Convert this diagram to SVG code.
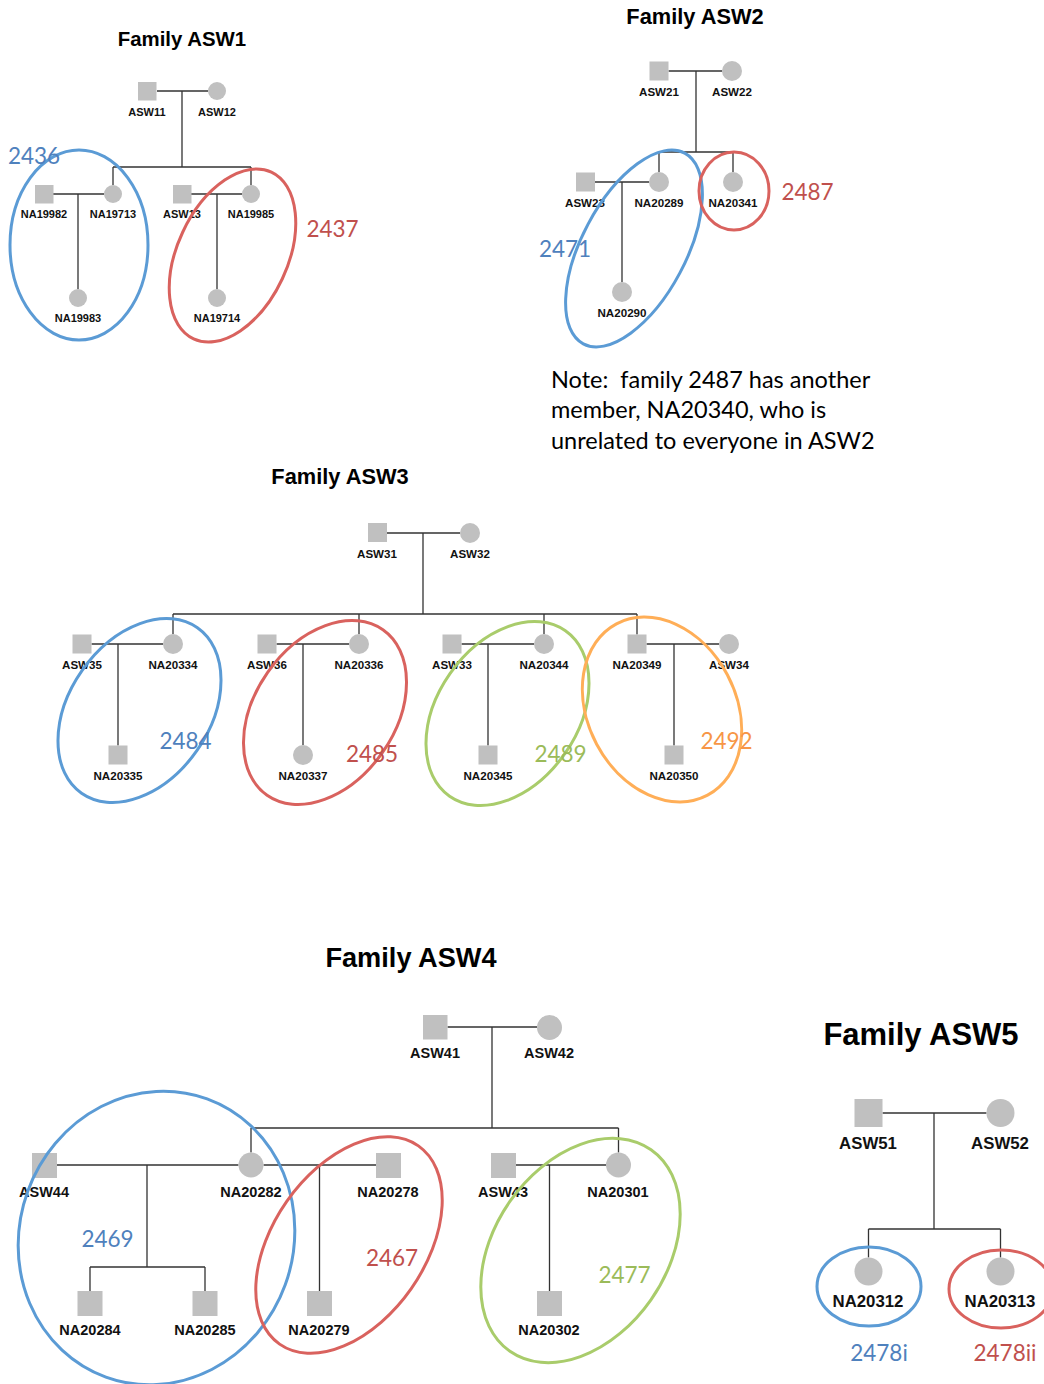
<svg xmlns="http://www.w3.org/2000/svg" width="1044" height="1384" viewBox="0 0 1044 1384">
<style>
.sq{fill:#C0C0C0}
.ci{fill:#C0C0C0}
.ln{stroke:#333;stroke-width:1.3;fill:none}
.t{font-family:"Liberation Sans",Arial,sans-serif;font-weight:bold;text-anchor:middle;fill:#111}
.l1{font-size:11px}
.l2{font-size:11.6px}
.l4{font-size:14.5px}
.l5{font-size:16.8px}
.ttl{font-family:"Liberation Sans",Arial,sans-serif;font-weight:bold;text-anchor:middle;fill:#000}
.num{font-family:Lato,"Open Sans",sans-serif;font-size:22.5px;text-anchor:middle}
.ell{fill:none;stroke-width:3}
.b{stroke:#5B9BD5}.r{stroke:#D9625E}.g{stroke:#A9CC6B}.o{stroke:#FFAE57}
.bt{fill:#4F81BD}.rt{fill:#C0504D}.gt{fill:#9BBB59}.ot{fill:#F79646}
.note{font-family:Lato,"Open Sans",sans-serif;font-size:23.5px;fill:#000}
</style>

<!-- Titles -->
<text class="ttl" x="182" y="46" font-size="20.4">Family ASW1</text>
<text class="ttl" x="695" y="24" font-size="21.8">Family ASW2</text>
<text class="ttl" x="340" y="484" font-size="21.8">Family ASW3</text>
<text class="ttl" x="411" y="967" font-size="27.2">Family ASW4</text>
<text class="ttl" x="921" y="1045" font-size="31">Family ASW5</text>

<!-- Connectors -->
<g id="connectors" class="ln">
<path d="M157 91H208M182 91V167M113 167H251M113 167V185M251 167V185M53 194H104M78 194V289M191 194H242M217 194V289"/>
<path d="M668.5 71H722M696 71V152M659 152H733M659 152V172M733 152V172M595 182H649M622 182V282"/>
<path d="M387 533H460M423 533V614M173 614H637M173 614V634M359 614V634M544 614V634M637 614V634.5M91.5 644H163M118 644V745.5M276.5 644H349M303 644V745M461.5 644H534M488 644V745.5M646.5 644H719M674 644V745.5"/>
<path d="M447.5 1027H537M492 1027V1128M251 1128H618.5M251 1128V1152.5M618.5 1128V1152.5M57 1165H238.5M147 1165V1267M90 1267H205M90 1267V1291M205 1267V1291M263.5 1165H376M319.5 1165V1291M516 1165H606M549.5 1165V1291"/>
<path d="M882.5 1113H986.5M934 1113V1229M868.5 1229H1000.5M868.5 1229V1257.5M1000.5 1229V1257.5"/>
</g>

<!-- Family ASW1 -->
<g id="ASW11"><rect class="sq" x="138" y="82" width="18.5" height="18.5"/><text class="t l1" x="147" y="116">ASW11</text></g>
<g id="ASW12"><circle class="ci" cx="217" cy="91" r="9"/><text class="t l1" x="217" y="116">ASW12</text></g>
<g id="NA19982"><rect class="sq" x="35" y="185" width="18.5" height="18.5"/><text class="t l1" x="44" y="218">NA19982</text></g>
<g id="NA19713"><circle class="ci" cx="113" cy="194" r="9"/><text class="t l1" x="113" y="218">NA19713</text></g>
<g id="ASW13"><rect class="sq" x="173" y="185" width="18.5" height="18.5"/><text class="t l1" x="182" y="218">ASW13</text></g>
<g id="NA19985"><circle class="ci" cx="251" cy="194" r="9"/><text class="t l1" x="251" y="218">NA19985</text></g>
<g id="NA19983"><circle class="ci" cx="78" cy="298" r="9"/><text class="t l1" x="78" y="322">NA19983</text></g>
<g id="NA19714"><circle class="ci" cx="217" cy="298" r="9"/><text class="t l1" x="217" y="322">NA19714</text></g>

<!-- Family ASW2 -->
<g id="ASW21"><rect class="sq" x="649.5" y="61.5" width="19" height="19"/><text class="t l2" x="659" y="96">ASW21</text></g>
<g id="ASW22"><circle class="ci" cx="732" cy="71" r="10"/><text class="t l2" x="732" y="96">ASW22</text></g>
<g id="ASW23"><rect class="sq" x="576" y="172.5" width="19" height="19"/><text class="t l2" x="585" y="207">ASW23</text></g>
<g id="NA20289"><circle class="ci" cx="659" cy="182" r="10"/><text class="t l2" x="659" y="207">NA20289</text></g>
<g id="NA20341"><circle class="ci" cx="733" cy="182" r="10"/><text class="t l2" x="733" y="207">NA20341</text></g>
<g id="NA20290"><circle class="ci" cx="622" cy="292" r="10"/><text class="t l2" x="622" y="317">NA20290</text></g>

<!-- Family ASW3 -->
<g id="ASW31"><rect class="sq" x="368" y="523" width="19" height="19"/><text class="t l2" x="377" y="558">ASW31</text></g>
<g id="ASW32"><circle class="ci" cx="470" cy="533" r="10"/><text class="t l2" x="470" y="558">ASW32</text></g>
<g id="ASW35"><rect class="sq" x="72.5" y="634.5" width="19" height="19"/><text class="t l2" x="82" y="669">ASW35</text></g>
<g id="NA20334"><circle class="ci" cx="173" cy="644" r="10"/><text class="t l2" x="173" y="669">NA20334</text></g>
<g id="ASW36"><rect class="sq" x="257.5" y="634.5" width="19" height="19"/><text class="t l2" x="267" y="669">ASW36</text></g>
<g id="NA20336"><circle class="ci" cx="359" cy="644" r="10"/><text class="t l2" x="359" y="669">NA20336</text></g>
<g id="ASW33"><rect class="sq" x="442.5" y="634.5" width="19" height="19"/><text class="t l2" x="452" y="669">ASW33</text></g>
<g id="NA20344"><circle class="ci" cx="544" cy="644" r="10"/><text class="t l2" x="544" y="669">NA20344</text></g>
<g id="NA20349"><rect class="sq" x="627.5" y="634.5" width="19" height="19"/><text class="t l2" x="637" y="669">NA20349</text></g>
<g id="ASW34"><circle class="ci" cx="729" cy="644" r="10"/><text class="t l2" x="729" y="669">ASW34</text></g>
<g id="NA20335"><rect class="sq" x="108.5" y="745.5" width="19" height="19"/><text class="t l2" x="118" y="780">NA20335</text></g>
<g id="NA20337"><circle class="ci" cx="303" cy="755" r="10"/><text class="t l2" x="303" y="780">NA20337</text></g>
<g id="NA20345"><rect class="sq" x="478.5" y="745.5" width="19" height="19"/><text class="t l2" x="488" y="780">NA20345</text></g>
<g id="NA20350"><rect class="sq" x="664.5" y="745.5" width="19" height="19"/><text class="t l2" x="674" y="780">NA20350</text></g>

<!-- Family ASW4 -->
<g id="ASW41"><rect class="sq" x="423" y="1015" width="24.5" height="24.5"/><text class="t l4" x="435" y="1058">ASW41</text></g>
<g id="ASW42"><circle class="ci" cx="549.5" cy="1027.5" r="12.5"/><text class="t l4" x="549" y="1058">ASW42</text></g>
<g id="ASW44"><rect class="sq" x="32" y="1153" width="25" height="25"/><text class="t l4" x="44" y="1197">ASW44</text></g>
<g id="NA20282"><circle class="ci" cx="251" cy="1165" r="12.5"/><text class="t l4" x="251" y="1197">NA20282</text></g>
<g id="NA20278"><rect class="sq" x="376" y="1153" width="25" height="25"/><text class="t l4" x="388" y="1197">NA20278</text></g>
<g id="ASW43"><rect class="sq" x="491" y="1153" width="25" height="25"/><text class="t l4" x="503" y="1197">ASW43</text></g>
<g id="NA20301"><circle class="ci" cx="618.5" cy="1165" r="12.5"/><text class="t l4" x="618" y="1197">NA20301</text></g>
<g id="NA20284"><rect class="sq" x="77.5" y="1291" width="25" height="25"/><text class="t l4" x="90" y="1335">NA20284</text></g>
<g id="NA20285"><rect class="sq" x="192.5" y="1291" width="25" height="25"/><text class="t l4" x="205" y="1335">NA20285</text></g>
<g id="NA20279"><rect class="sq" x="307" y="1291" width="25" height="25"/><text class="t l4" x="319" y="1335">NA20279</text></g>
<g id="NA20302"><rect class="sq" x="537" y="1291" width="25" height="25"/><text class="t l4" x="549" y="1335">NA20302</text></g>

<!-- Family ASW5 -->
<g id="ASW51"><rect class="sq" x="854.5" y="1099" width="28" height="28"/><text class="t l5" x="868" y="1149">ASW51</text></g>
<g id="ASW52"><circle class="ci" cx="1000.5" cy="1113" r="14"/><text class="t l5" x="1000" y="1149">ASW52</text></g>
<g id="NA20312"><circle class="ci" cx="868.5" cy="1271.5" r="14"/><text class="t l5" x="868" y="1307">NA20312</text></g>
<g id="NA20313"><circle class="ci" cx="1000.5" cy="1271.5" r="14"/><text class="t l5" x="1000" y="1307">NA20313</text></g>

<!-- Cluster ellipses -->
<g id="clusters">
<ellipse class="ell b" cx="79" cy="245" rx="69" ry="95"/>
<ellipse class="ell r" cx="0" cy="0" rx="55" ry="92" transform="translate(232.5 255.5) rotate(25)"/>
<ellipse class="ell b" cx="0" cy="0" rx="52" ry="108" transform="translate(634 248.5) rotate(28)"/>
<ellipse class="ell r" cx="734" cy="191" rx="35" ry="39"/>
<ellipse class="ell b" cx="0" cy="0" rx="70" ry="101" transform="translate(139.5 710.5) rotate(35)"/>
<ellipse class="ell r" cx="0" cy="0" rx="70" ry="101" transform="translate(325 712.5) rotate(35)"/>
<ellipse class="ell g" cx="0" cy="0" rx="70" ry="101" transform="translate(507.5 713.5) rotate(35)"/>
<ellipse class="ell o" cx="0" cy="0" rx="74" ry="97" transform="translate(662 709.5) rotate(-28)"/>
<ellipse class="ell b" cx="0" cy="0" rx="137" ry="148" transform="translate(156.5 1238) rotate(20)"/>
<ellipse class="ell r" cx="0" cy="0" rx="76" ry="121" transform="translate(349 1245) rotate(35)"/>
<ellipse class="ell g" cx="0" cy="0" rx="86" ry="123" transform="translate(580.5 1250.5) rotate(35)"/>
<ellipse class="ell b" cx="869" cy="1286.5" rx="52" ry="39.5"/>
<ellipse class="ell r" cx="1001" cy="1289" rx="52" ry="39"/>
</g>

<!-- Cluster labels -->
<g id="cluster-labels">
<text class="num bt" x="34" y="164">2436</text>
<text class="num rt" x="332.5" y="236.5">2437</text>
<text class="num bt" x="565" y="256.5">2471</text>
<text class="num rt" x="807.5" y="199.5">2487</text>
<text class="num bt" x="185.5" y="748.5">2484</text>
<text class="num rt" x="372" y="761.5">2485</text>
<text class="num gt" x="560.5" y="761.5">2489</text>
<text class="num ot" x="726.5" y="748.5">2492</text>
<text class="num bt" x="107.5" y="1246.5">2469</text>
<text class="num rt" x="392" y="1265.5">2467</text>
<text class="num gt" x="624.5" y="1282.5">2477</text>
<text class="num bt" x="879" y="1361">2478i</text>
<text class="num rt" x="1005" y="1361">2478ii</text>
</g>

<!-- Note -->
<g id="note">
<text class="note" x="551" y="388" xml:space="preserve">Note:  family 2487 has another</text>
<text class="note" x="551" y="418">member, NA20340, who is</text>
<text class="note" x="551" y="449">unrelated to everyone in ASW2</text>
</g>
</svg>
